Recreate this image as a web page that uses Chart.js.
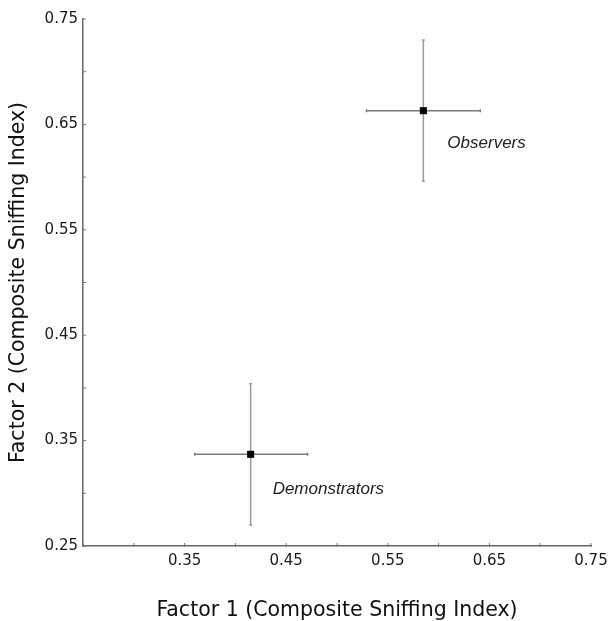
<!DOCTYPE html>
<html>
<head>
<meta charset="utf-8">
<script src="https://cdn.jsdelivr.net/npm/chart.js@4.4.1/dist/chart.umd.min.js"></script>
<style>
  html, body { margin: 0; padding: 0; background: #fff; }
</style>
</head>
<body>
<canvas id="chart" width="611" height="621"></canvas>
<script>
// groups and their means with error bar extents
const groups = ["Observers", "Demonstrators"];
const factor1 = [0.585, 0.415];
const factor2 = [0.663, 0.337];
const factor1Low = [0.529, 0.360];
const factor1High = [0.641, 0.471];
const factor2Low = [0.596, 0.270];
const factor2High = [0.730, 0.404];

const xTicks = [0.35, 0.45, 0.55, 0.65, 0.75];
const yTicks = [0.25, 0.35, 0.45, 0.55, 0.65, 0.75];

const tickFont = { family: "DejaVu Sans", size: 15 };
const titleFont = { family: "DejaVu Sans", size: 20.5, lineHeight: 1 };

const points = groups.map((g, i) => ({ x: factor1[i], y: factor2[i] }));

function labelFor(list) {
    return (value) => {
        const hit = list.find(t => Math.abs(t - value) < 1e-6);
        return hit === undefined ? "" : hit.toFixed(2);
    };
}

const errorBars = {
    id: "errorBars",
    beforeDatasetsDraw(chart) {
        const { ctx, scales: { x, y } } = chart;
        ctx.save();
        ctx.lineWidth = 1.5;
        groups.forEach((g, i) => {
            const px = x.getPixelForValue(factor1[i]);
            const py = y.getPixelForValue(factor2[i]);
            const x0 = x.getPixelForValue(factor1Low[i]);
            const x1 = x.getPixelForValue(factor1High[i]);
            const y0 = y.getPixelForValue(factor2Low[i]);
            const y1 = y.getPixelForValue(factor2High[i]);
            ctx.strokeStyle = "#999";
            ctx.beginPath();
            ctx.moveTo(px, y0); ctx.lineTo(px, y1);
            ctx.moveTo(px - 1.5, y0); ctx.lineTo(px + 1.5, y0);
            ctx.moveTo(px - 1.5, y1); ctx.lineTo(px + 1.5, y1);
            ctx.stroke();
            ctx.strokeStyle = "#7a7a7a";
            ctx.beginPath();
            ctx.moveTo(x0, py); ctx.lineTo(x1, py);
            ctx.moveTo(x0, py - 1.5); ctx.lineTo(x0, py + 1.5);
            ctx.moveTo(x1, py - 1.5); ctx.lineTo(x1, py + 1.5);
            ctx.stroke();
        });
        ctx.restore();
    },
    afterDatasetsDraw(chart, args, opts) {
        const { ctx, scales: { x, y } } = chart;
        ctx.save();
        ctx.fillStyle = "#222";
        ctx.font = "italic 17px 'Liberation Sans'";
        ctx.textBaseline = "alphabetic";
        groups.forEach((g, i) => {
            const off = opts.offsets[i];
            ctx.fillText(g, x.getPixelForValue(factor1[i]) + off[0], y.getPixelForValue(factor2[i]) + off[1]);
        });
        ctx.restore();
    }
};

// small tick marks on the inside of the axes
const innerTicks = {
    id: "innerTicks",
    afterDraw(chart) {
        const { ctx, scales: { x, y } } = chart;
        ctx.save();
        ctx.strokeStyle = "#777";
        ctx.lineWidth = 1;
        ctx.beginPath();
        x.ticks.forEach(t => {
            const px = x.getPixelForValue(t.value);
            ctx.moveTo(px, y.bottom - 3); ctx.lineTo(px, y.bottom + 1);
        });
        y.ticks.forEach(t => {
            const py = y.getPixelForValue(t.value);
            ctx.moveTo(x.left - 1, py); ctx.lineTo(x.left + 3, py);
        });
        ctx.stroke();
        ctx.restore();
    }
};

new Chart(document.getElementById("chart"), {
    type: "scatter",
    data: {
        datasets: [{
            data: points,
            pointStyle: "rect",
            pointRadius: 5,
            pointHoverRadius: 5,
            backgroundColor: "#000",
            borderColor: "#000",
            borderWidth: 0
        }]
    },
    options: {
        responsive: false,
        animation: false,
        layout: {
            padding: { top: 19, right: 20, left: 0, bottom: 0 }
        },
        scales: {
            x: {
                type: "linear",
                min: 0.25,
                max: 0.75,
                afterFit: (scale) => {
                    scale.height = 75;
                    scale.paddingRight = 0;
                    scale.paddingLeft = 0;
                },
                grid: { display: false, drawTicks: false },
                border: { display: true, color: "#666", width: 1.5 },
                ticks: {
                    stepSize: 0.05,
                    autoSkip: false,
                    maxRotation: 0,
                    padding: 6,
                    font: tickFont,
                    color: "#1a1a1a",
                    callback: labelFor(xTicks)
                },
                title: {
                    display: true,
                    text: "Factor 1 (Composite Sniffing Index)",
                    font: titleFont,
                    color: "#111",
                    padding: { top: 0, bottom: 0 }
                }
            },
            y: {
                type: "linear",
                min: 0.25,
                max: 0.75,
                afterFit: (scale) => { scale.width = 83; },
                grid: { display: false, drawTicks: false },
                border: { display: true, color: "#666", width: 1.5 },
                ticks: {
                    stepSize: 0.05,
                    autoSkip: false,
                    padding: 5,
                    font: tickFont,
                    color: "#1a1a1a",
                    callback: labelFor(yTicks)
                },
                title: {
                    display: true,
                    text: "Factor 2 (Composite Sniffing Index)",
                    font: titleFont,
                    color: "#111",
                    padding: { top: 8, bottom: 0 }
                }
            }
        },
        plugins: {
            legend: { display: false },
            tooltip: { enabled: false },
            errorBars: { offsets: [[24, 37], [22, 40]] }
        }
    },
    plugins: [errorBars, innerTicks]
});
</script>
</body>
</html>
